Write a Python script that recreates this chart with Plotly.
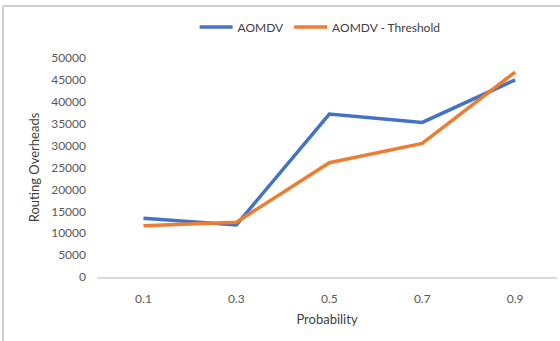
import plotly.graph_objects as go

categories = ["0.1", "0.3", "0.5", "0.7", "0.9"]
aomdv = [13400, 11900, 37200, 35300, 45000]
aomdv_threshold = [11700, 12500, 26100, 30500, 46800]
y_ticks = [0, 5000, 10000, 15000, 20000, 25000, 30000, 35000, 40000, 45000, 50000]
y_tick_text = [str(v) for v in y_ticks]

fig = go.Figure()
fig.add_trace(go.Scatter(x=categories, y=aomdv, mode="lines", name="AOMDV",
                         line=dict(color="#4472C4", width=3.5)))
fig.add_trace(go.Scatter(x=categories, y=aomdv_threshold, mode="lines", name="AOMDV - Threshold",
                         line=dict(color="#ED7D31", width=3.5)))

font = "Lato, Open Sans, sans-serif"
fig.update_layout(
    width=560, height=341,
    margin=dict(l=97, r=3, t=58, b=64),
    paper_bgcolor="white", plot_bgcolor="white",
    font=dict(family=font, size=12, color="#595959"),
    showlegend=True,
    legend=dict(orientation="h", x=0.485, xanchor="center", y=1 - 27/341, yanchor="middle",
                yref="container", font=dict(size=12, color="#404040"),
                bgcolor="rgba(0,0,0,0)", itemwidth=33, tracegroupgap=0),
    xaxis=dict(type="category", range=[-0.5, 4.45], showgrid=False,
               showline=True, linecolor="#d9d9d9", linewidth=1.5, ticks="",
               ticklabelstandoff=10,
               title=dict(text="Probability", font=dict(size=13, color="#404040"), standoff=10),
               tickfont=dict(size=12, color="#595959")),
    yaxis=dict(range=[0, 50000], tickvals=y_ticks, ticktext=y_tick_text, showgrid=False,
               zeroline=False, showline=False, ticks="", ticklabelstandoff=10,
               title=dict(text="Routing Overheads", font=dict(size=13, color="#404040"), standoff=8),
               tickfont=dict(size=12, color="#595959")),
    shapes=[
        dict(type="rect", xref="paper", yref="paper", x0=-94/460, x1=1.2,
             y0=1+51/219, y1=1+53/219, line=dict(width=0), fillcolor="#d0d0d0", layer="above"),
        dict(type="line", xref="paper", yref="paper", x0=-94/460, x1=-94/460, y0=1+52/219, y1=-1.0,
             line=dict(color="#d0d0d0", width=2), layer="above"),
    ],
)

fig.write_html("out.html", config={"displayModeBar": False})
